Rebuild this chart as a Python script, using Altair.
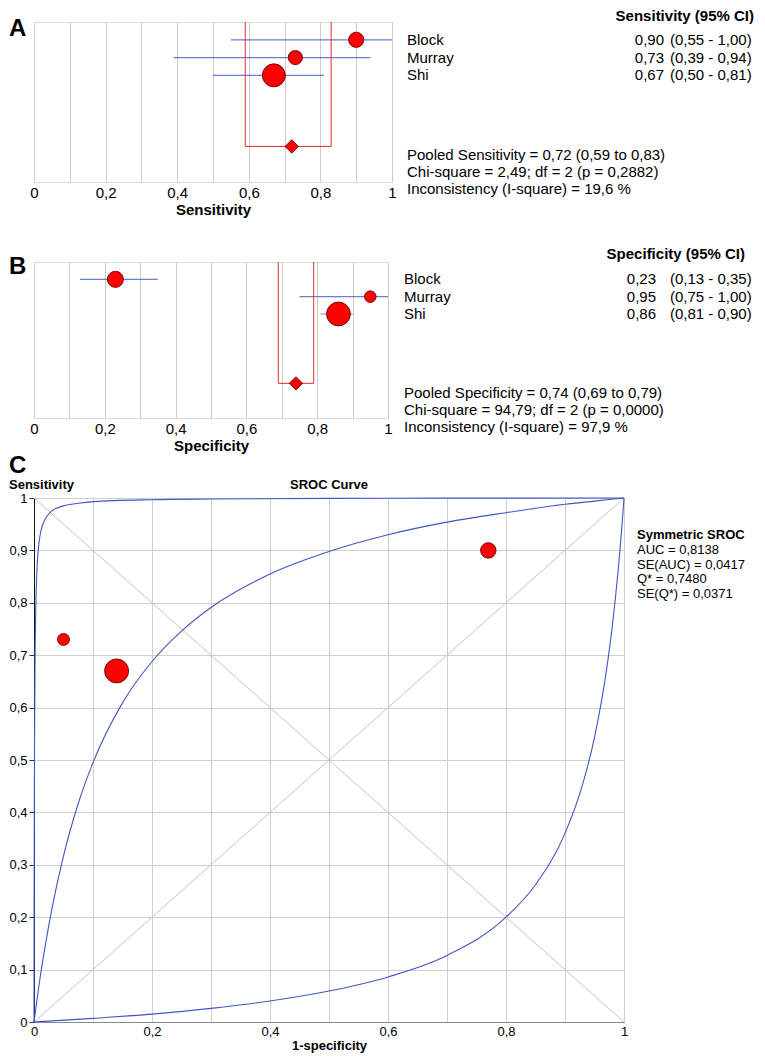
import altair as alt
import pandas as pd

# ---------------- data ----------------
studies = ["Block", "Murray", "Shi"]
study_rows = [1, 2, 3]
pooled_row = 7

sens = [0.90, 0.73, 0.67]
sens_lo = [0.55, 0.39, 0.50]
sens_hi = [1.00, 0.94, 0.81]
sens_weight = [24, 21, 55]
sens_pooled = [0.72, 0.59, 0.83]
sens_stats = ["Pooled Sensitivity = 0,72 (0,59 to 0,83)",
              "Chi-square = 2,49; df =  2 (p = 0,2882)",
              "Inconsistency (I-square) = 19,6 %"]

spec = [0.23, 0.95, 0.86]
spec_lo = [0.13, 0.75, 0.81]
spec_hi = [0.35, 1.00, 0.90]
spec_weight = [27, 14, 59]
spec_pooled = [0.74, 0.69, 0.79]
spec_stats = ["Pooled Specificity = 0,74 (0,69 to 0,79)",
              "Chi-square = 94,79; df =  2 (p = 0,0000)",
              "Inconsistency (I-square) = 97,9 %"]

sroc_weight = [25, 15, 60]
sroc_title = "Symmetric SROC"
sroc_stats = ["AUC = 0,8138", "SE(AUC) = 0,0417", "Q* = 0,7480", "SE(Q*) = 0,0371"]

up_fpr = [0, 0.0001, 0.0002, 0.0005, 0.001, 0.002, 0.003, 0.005, 0.0075, 0.01, 0.015,
          0.02, 0.03, 0.05, 0.075, 0.1, 0.2, 0.3, 0.5, 0.7, 1.0]
up_tpr = [0, 0.111, 0.2, 0.385, 0.556, 0.715, 0.79, 0.863, 0.904, 0.927, 0.950,
          0.962, 0.975, 0.985, 0.990, 0.993, 0.9968, 0.9981, 0.9992, 0.9997, 1.0]
mid_fpr = [0, 0.005, 0.01, 0.02, 0.03, 0.05, 0.075, 0.1, 0.15, 0.2, 0.25, 0.3, 0.4,
           0.5, 0.6, 0.7, 0.8, 0.9, 0.95, 1.0]
mid_tpr = [0, 0.042, 0.082, 0.152, 0.214, 0.317, 0.417, 0.495, 0.609, 0.688, 0.746,
           0.791, 0.855, 0.898, 0.930, 0.954, 0.972, 0.988, 0.994, 1.0]
low_fpr = [0, 0.1, 0.2, 0.3, 0.4, 0.5, 0.6, 0.7, 0.8, 0.85, 0.9, 0.93, 0.95, 0.97,
           0.98, 0.99, 0.995, 0.998, 0.999, 1.0]
low_tpr = [0, 0.007, 0.015, 0.026, 0.040, 0.059, 0.086, 0.127, 0.2, 0.262, 0.36, 0.454,
           0.543, 0.669, 0.754, 0.861, 0.926, 0.969, 0.984, 1.0]

tick_values = [0, 0.1, 0.2, 0.3, 0.4, 0.5, 0.6, 0.7, 0.8, 0.9, 1.0]

# ---------------- styling ----------------
FONT = "Liberation Sans, Arial, Helvetica, sans-serif"
RED = "#ff0000"
DARKRED = "#4a0000"
CI_BLUE = "#5a6ed8"
CURVE_BLUE = "#4355c6"
comma_expr = "replace(format(datum.value, '.1~f'), '.', ',')"
even_expr = "round(datum.value * 10) % 2 == 0 ? " + comma_expr + " : ''"


def fmt(v):
    return f"{v:.2f}".replace(".", ",")


one = pd.DataFrame({"k": [0]})


def forest(est, lo, hi, w, pooled, stats, xtitle, header, letter, width, height,
           size_max, name_x, val_x, ci_x, head_x, head_y, stats_y, letter_y):
    df = pd.DataFrame({"study": studies, "row": study_rows, "est": est,
                       "lo": lo, "hi": hi, "w": w})
    df["est_txt"] = [fmt(v) for v in est]
    df["ci_txt"] = ["(" + fmt(a) + " - " + fmt(b) + ")" for a, b in zip(lo, hi)]
    pool_df = pd.DataFrame({"x": [pooled[1], pooled[1], pooled[2], pooled[2]],
                            "y": [0, pooled_row, pooled_row, 0],
                            "o": [0, 1, 2, 3]})
    dia_df = pd.DataFrame({"x": [pooled[0]], "y": [pooled_row]})

    xs = alt.Scale(domain=[0, 1], nice=False, zero=False)
    ys = alt.Scale(domain=[0, 9], reverse=True, nice=False, zero=False)
    ax = alt.Axis(values=tick_values, grid=True, gridColor="#cccccc", ticks=False,
                  domain=False, labelExpr=even_expr, labelFontSize=15, labelPadding=3,
                  labelOverlap=False, labelFlush=False, title=xtitle, titleFontSize=15,
                  titleFontWeight="bold", titlePadding=2)

    ci = alt.Chart(df).mark_rule(color=CI_BLUE, strokeWidth=1.2, opacity=0.9).encode(
        x=alt.X("lo:Q", scale=xs, axis=ax), x2="hi:Q",
        y=alt.Y("row:Q", scale=ys, axis=None))
    box = alt.Chart(pool_df).mark_line(color="#e0302a", strokeWidth=1).encode(
        x=alt.X("x:Q", scale=xs, axis=ax), y=alt.Y("y:Q", scale=ys, axis=None),
        order="o:O")
    dia = alt.Chart(dia_df).mark_point(shape="diamond", filled=True, fill=RED,
                                       stroke=DARKRED, strokeWidth=0.8, size=180,
                                       opacity=1).encode(
        x=alt.X("x:Q", scale=xs, axis=ax), y=alt.Y("y:Q", scale=ys, axis=None))
    pts = alt.Chart(df).mark_circle(color=RED, stroke=DARKRED, strokeWidth=0.8,
                                    opacity=1).encode(
        x=alt.X("est:Q", scale=xs, axis=ax), y=alt.Y("row:Q", scale=ys, axis=None),
        size=alt.Size("w:Q", scale=alt.Scale(domain=[0, 100], range=[0, size_max]),
                      legend=None))
    names = alt.Chart(df).mark_text(align="left", font=FONT, fontSize=15,
                                    color="black").encode(
        x=alt.value(name_x), y=alt.Y("row:Q", scale=ys, axis=None), text="study:N")
    vals = alt.Chart(df).mark_text(align="right", font=FONT, fontSize=15,
                                   color="black").encode(
        x=alt.value(val_x), y=alt.Y("row:Q", scale=ys, axis=None), text="est_txt:N")
    cis = alt.Chart(df).mark_text(align="left", font=FONT, fontSize=15,
                                  color="black").encode(
        x=alt.value(ci_x), y=alt.Y("row:Q", scale=ys, axis=None), text="ci_txt:N")
    head = alt.Chart(one).mark_text(align="right", font=FONT, fontSize=15,
                                    fontWeight="bold", color="black").encode(
        x=alt.value(head_x), y=alt.value(head_y), text=alt.value(header))
    st = alt.Chart(one).mark_text(align="left", font=FONT, fontSize=15, lineHeight=17,
                                  color="black").encode(
        x=alt.value(name_x), y=alt.value(stats_y), text=alt.value(stats))
    let = alt.Chart(one).mark_text(align="left", baseline="alphabetic", font=FONT,
                                   fontSize=24, fontWeight="bold", color="black").encode(
        x=alt.value(-25), y=alt.value(letter_y), text=alt.value(letter))
    return alt.layer(ci, box, dia, pts, names, vals, cis, head, st, let).properties(
        width=width, height=height)


panelA = forest(sens, sens_lo, sens_hi, sens_weight, sens_pooled, sens_stats,
                "Sensitivity", "Sensitivity (95% CI)", "A", 358, 160, 965,
                373, 630, 636, 720, -6, 133, 14)
panelB = forest(spec, spec_lo, spec_hi, spec_weight, spec_pooled, spec_stats,
                "Specificity", "Specificity (95% CI)", "B", 354, 156, 840,
                370, 622, 636, 711, -8, 131, 12)

# ---------------- SROC panel ----------------
curves = pd.concat([
    pd.DataFrame({"curve": "upper", "fpr": up_fpr, "tpr": up_tpr}),
    pd.DataFrame({"curve": "sroc", "fpr": mid_fpr, "tpr": mid_tpr}),
    pd.DataFrame({"curve": "lower", "fpr": low_fpr, "tpr": low_tpr}),
], ignore_index=True)
diag = pd.DataFrame({"x": [0, 0], "y": [0, 1], "x2": [1, 1], "y2": [1, 0]})
sroc_pts = pd.DataFrame({"study": studies, "fpr": [round(1 - s, 2) for s in spec],
                         "tpr": sens, "w": sroc_weight})

cxs = alt.Scale(domain=[0, 1], nice=False, zero=False)
cys = alt.Scale(domain=[0, 1], nice=False, zero=False)
cax = alt.Axis(values=tick_values, grid=True, gridColor="#d0d0d0", ticks=False,
               domain=True, domainColor="#8a8a8a", labelExpr=even_expr, labelFontSize=13,
               labelPadding=3, labelOverlap=False, labelFlush=False,
               title="1-specificity", titleFontSize=13, titleFontWeight="bold",
               titlePadding=1)
cay = alt.Axis(values=tick_values, grid=True, gridColor="#d0d0d0", ticks=True,
               tickSize=5, tickColor="#333333", domain=True, domainColor="#111111",
               labelExpr=comma_expr, labelFontSize=13, labelPadding=2,
               labelOverlap=False, labelFlush=False, title=None)

cW, cH = 590, 524
dg = alt.Chart(diag).mark_rule(color="#c4c4c4", strokeWidth=1).encode(
    x=alt.X("x:Q", scale=cxs, axis=cax), y=alt.Y("y:Q", scale=cys, axis=cay),
    x2="x2:Q", y2="y2:Q")
cv = alt.Chart(curves).mark_line(color=CURVE_BLUE, strokeWidth=1.1,
                                 interpolate="monotone").encode(
    x=alt.X("fpr:Q", scale=cxs, axis=cax), y=alt.Y("tpr:Q", scale=cys, axis=cay),
    detail="curve:N")
cp = alt.Chart(sroc_pts).mark_circle(color=RED, stroke=DARKRED, strokeWidth=0.8,
                                     opacity=1).encode(
    x=alt.X("fpr:Q", scale=cxs, axis=cax), y=alt.Y("tpr:Q", scale=cys, axis=cay),
    size=alt.Size("w:Q", scale=alt.Scale(domain=[0, 100], range=[0, 430]), legend=None))
c_ytitle = alt.Chart(one).mark_text(align="left", font=FONT, fontSize=13,
                                    fontWeight="bold", color="black").encode(
    x=alt.value(-25), y=alt.value(-13), text=alt.value("Sensitivity"))
c_title = alt.Chart(one).mark_text(align="center", font=FONT, fontSize=13,
                                   fontWeight="bold", color="black").encode(
    x=alt.value(cW / 2), y=alt.value(-13), text=alt.value("SROC Curve"))
c_let = alt.Chart(one).mark_text(align="left", baseline="alphabetic", font=FONT,
                                 fontSize=24, fontWeight="bold", color="black").encode(
    x=alt.value(-25), y=alt.value(-25), text=alt.value("C"))
c_head = alt.Chart(one).mark_text(align="left", font=FONT, fontSize=13,
                                  fontWeight="bold", color="black").encode(
    x=alt.value(603), y=alt.value(37), text=alt.value(sroc_title))
c_stats = alt.Chart(one).mark_text(align="left", font=FONT, fontSize=13,
                                   lineHeight=14.5, color="black").encode(
    x=alt.value(603), y=alt.value(52), text=alt.value(sroc_stats))

panelC = alt.layer(dg, cv, cp, c_ytitle, c_title, c_let, c_head, c_stats).properties(
    width=cW, height=cH)

chart = alt.vconcat(panelA, panelB, panelC, spacing=80, bounds="flush",
                    padding=0).configure_view(
    stroke="#555555", strokeWidth=1.3).configure_axis(
    labelFont=FONT, titleFont=FONT, labelColor="black", titleColor="black").configure(
    font=FONT, background="white")

chart.save("out.html", embed_options={"renderer": "svg", "actions": False})
